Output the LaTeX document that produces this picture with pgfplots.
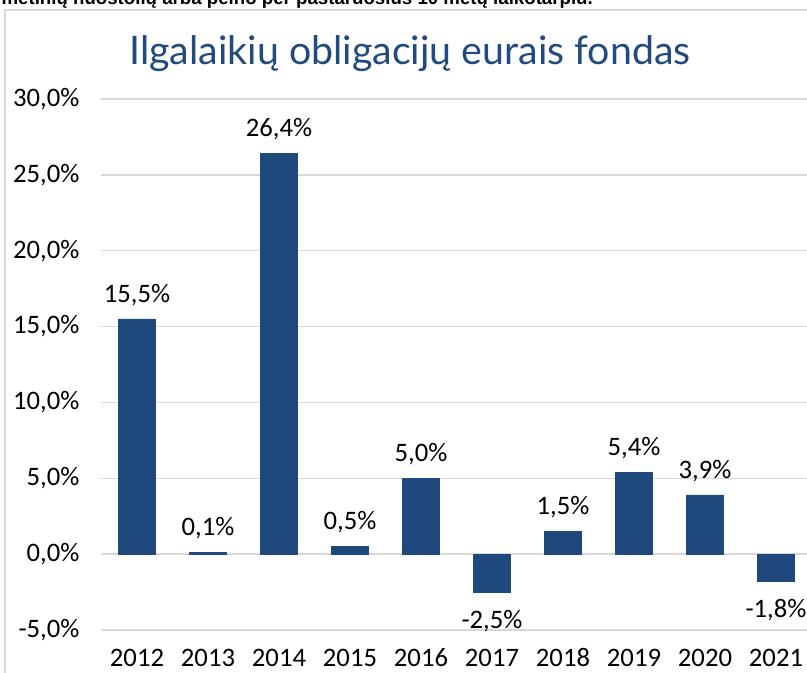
\documentclass[border=0pt]{standalone}
\usepackage{pgfplots}
\pgfplotsset{compat=1.18}
\usepackage{fontspec}
\setmainfont{Carlito}
\newfontfamily\titlefont{Lato}
\newfontfamily\headfont{Liberation Sans}
\definecolor{barblue}{RGB}{31,73,125}
\definecolor{titleblue}{RGB}{32,74,128}
\definecolor{gridgray}{RGB}{217,217,217}

% fund yearly returns, %
\pgfplotstableread{
x val
0 15.5
1 0.1
2 26.4
3 0.5
4 5.0
6 1.5
7 5.4
8 3.9
}\posdata
\pgfplotstableread{
x val
5 -2.5
9 -1.8
}\negdata

\begin{document}
\begin{tikzpicture}
\useasboundingbox (0pt,0pt) rectangle (605.25pt,504.75pt);
\clip (0pt,0pt) rectangle (605.25pt,504.75pt);
\node[font=\headfont\bfseries\fontsize{14}{16}\selectfont, anchor=base west, inner sep=0] at (1pt,501.6pt)
  {metinių nuostolių arba pelno per pastaruosius 10 metų laikotarpiu.};
\draw[gridgray, line width=1.5pt] (3.75pt,-20pt) -- (3.75pt,497.25pt) -- (700pt,497.25pt);
\node[font=\titlefont\fontsize{29.5}{34}\selectfont, text=titleblue, anchor=base] at (307.5pt,456pt)
  {Ilgalaikių obligacijų eurais fondas};
\begin{axis}[
  at={(76.125pt,32.25pt)}, anchor=south west,
  scale only axis, width=532.5pt, height=398.25pt,
  xmin=-0.5, xmax=9.5, ymin=-5, ymax=30,
  ybar, bar width=27.75pt,
  axis line style={draw=none}, major tick length=0pt,
  ymajorgrids, grid style={gridgray, line width=1.1pt},
  ytick={-5,0,5,10,15,20,25,30},
  xtick={0,...,9},
  xticklabels={2012,2013,2014,2015,2016,2017,2018,2019,2020,2021},
  /pgf/number format/assume math mode=true,
  yticklabel={\pgfmathprintnumber[fixed,fixed zerofill,precision=1,use comma]{\tick}\%},
  tick label style={font=\fontsize{20}{23}\selectfont},
  yticklabel style={xshift=-13pt},
  xticklabel style={yshift=-10.5pt},
  nodes near coords={\pgfmathprintnumber[fixed,fixed zerofill,precision=1,use comma,assume math mode=true]{\pgfplotspointmeta}\%},
  nodes near coords style={font=\fontsize{20}{23}\selectfont, text=black},
]
\addplot[fill=barblue, draw=barblue, bar shift=0pt,
  every node near coord/.append style={anchor=south, yshift=6.5pt}]
  table[x=x, y=val] {\posdata};
\addplot[fill=barblue, draw=barblue, bar shift=0pt,
  every node near coord/.append style={anchor=north, yshift=-9.8pt}]
  table[x=x, y=val] {\negdata};
\end{axis}
\end{tikzpicture}
\end{document}
